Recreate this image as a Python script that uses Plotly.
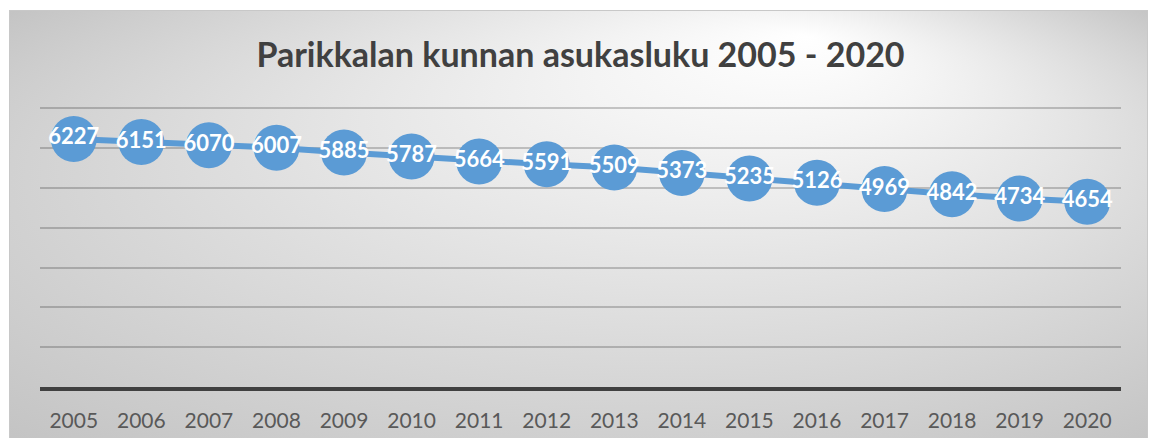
import base64
import plotly.graph_objects as go

years = ["2005", "2006", "2007", "2008", "2009", "2010", "2011", "2012",
         "2013", "2014", "2015", "2016", "2017", "2018", "2019", "2020"]
population = [6227, 6151, 6070, 6007, 5885, 5787, 5664, 5591,
              5509, 5373, 5235, 5126, 4969, 4842, 4734, 4654]
title_text = "Parikkalan kunnan asukasluku 2005 - 2020"

W, H = 1150, 438
L, R, T, B = 40, 29, 105, 51
YMAX = 7080

# gradient background as an SVG image
svg = (
    '<svg xmlns="http://www.w3.org/2000/svg" width="1139" height="440" '
    'viewBox="0 0 1139 440" preserveAspectRatio="none">'
    '<defs><radialGradient id="g" cx="0.5" cy="0.5" r="0.72" fx="0.70" fy="0.06">'
    '<stop offset="0" stop-color="#ffffff"/>'
    '<stop offset="0.2" stop-color="#f4f4f4"/>'
    '<stop offset="1" stop-color="#c2c2c2"/>'
    '</radialGradient></defs>'
    '<rect x="0" y="0" width="1139" height="440" fill="url(#g)" stroke="#c8c8c8" stroke-width="2"/>'
    '</svg>'
)
src = "data:image/svg+xml;base64," + base64.b64encode(svg.encode()).decode()

pw = W - L - R
ph = H - T - B
x0 = (9 - L) / pw
y_top = 1 + (T - 10) / ph
sx = 1139 / pw
sy = 440 / ph

fig = go.Figure()
fig.add_trace(go.Scatter(
    x=years, y=population,
    mode="lines+markers+text",
    text=[str(v) for v in population],
    textposition="middle center",
    textfont=dict(family="Lato", size=22, color="white", weight="bold"),
    line=dict(color="#5B9BD5", width=6),
    marker=dict(size=46, color="#5B9BD5"),
    cliponaxis=False,
    hoverinfo="x+y",
))

fig.update_layout(
    width=W, height=H,
    margin=dict(l=L, r=R, t=T, b=B, autoexpand=False),
    paper_bgcolor="white",
    plot_bgcolor="rgba(0,0,0,0)",
    showlegend=False,
    title=dict(text=title_text, x=0.5, xref="paper", xanchor="center",
               y=1 - 55 / H, yanchor="middle",
               font=dict(family="Lato", size=34, color="#404040", weight="bold")),
    images=[dict(source=src, xref="paper", yref="paper", x=x0, y=y_top,
                 sizex=sx, sizey=sy, sizing="stretch", layer="below",
                 xanchor="left", yanchor="top")],
    xaxis=dict(
        type="category",
        automargin=False,
        showgrid=False,
        showline=True, linecolor="#404040", linewidth=4,
        ticks="", ticklen=0,
        ticklabelstandoff=12,
        tickfont=dict(family="Lato", size=21, color="#595959"),
        range=[-0.5, 15.5],
    ),
    yaxis=dict(
        range=[0, YMAX],
        automargin=False,
        dtick=1000,
        showgrid=True, gridcolor="rgba(0,0,0,0.2)", gridwidth=1.5,
        zeroline=False,
        showticklabels=False,
        ticks="",
    ),
)

fig.write_html(
    "out.html",
    config={"displayModeBar": False},
    post_script="document.body.style.margin='0';document.body.style.overflow='hidden';",
)
